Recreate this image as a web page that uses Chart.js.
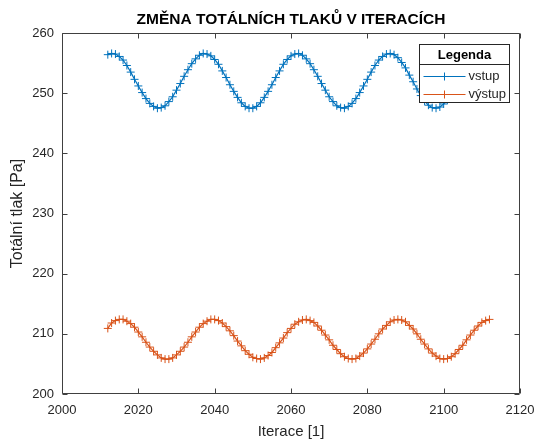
<!DOCTYPE html>
<html>
<head>
<meta charset="utf-8">
<script src="https://cdn.jsdelivr.net/npm/chart.js@4.4.1/dist/chart.umd.min.js"></script>
<style>
  html, body { margin: 0; padding: 0; background: #ffffff; }
  #wrap { width: 536px; height: 439px; }
</style>
</head>
<body>
<div id="wrap"><canvas id="c" width="536" height="439"></canvas></div>
<script>
// Iteration numbers (x values)
const iterations = [
  2012, 2013, 2014, 2015, 2016, 2017, 2018, 2019, 2020, 2021,
  2022, 2023, 2024, 2025, 2026, 2027, 2028, 2029, 2030, 2031,
  2032, 2033, 2034, 2035, 2036, 2037, 2038, 2039, 2040, 2041,
  2042, 2043, 2044, 2045, 2046, 2047, 2048, 2049, 2050, 2051,
  2052, 2053, 2054, 2055, 2056, 2057, 2058, 2059, 2060, 2061,
  2062, 2063, 2064, 2065, 2066, 2067, 2068, 2069, 2070, 2071,
  2072, 2073, 2074, 2075, 2076, 2077, 2078, 2079, 2080, 2081,
  2082, 2083, 2084, 2085, 2086, 2087, 2088, 2089, 2090, 2091,
  2092, 2093, 2094, 2095, 2096, 2097, 2098, 2099, 2100, 2101,
  2102, 2103, 2104, 2105, 2106, 2107, 2108, 2109, 2110, 2111,
  2112
];

// Total pressure at the inlet [Pa]
const vstup = [
  256.4, 256.6, 256.5, 256.1, 255.5, 254.6, 253.5, 252.3, 251.2, 250.1,
  249.1, 248.3, 247.8, 247.5, 247.6, 247.9, 248.6, 249.4, 250.5, 251.6,
  252.8, 253.9, 254.9, 255.7, 256.3, 256.6, 256.5, 256.2, 255.6, 254.8,
  253.7, 252.6, 251.4, 250.3, 249.3, 248.4, 247.8, 247.5, 247.5, 247.8,
  248.4, 249.3, 250.3, 251.4, 252.6, 253.7, 254.8, 255.6, 256.2, 256.5,
  256.6, 256.3, 255.7, 254.9, 253.9, 252.8, 251.6, 250.5, 249.4, 248.6,
  247.9, 247.6, 247.5, 247.8, 248.3, 249.1, 250.1, 251.2, 252.3, 253.5,
  254.6, 255.5, 256.1, 256.5, 256.6, 256.4, 255.9, 255.1, 254.2, 253.0,
  251.9, 250.7, 249.6, 248.7, 248.0, 247.6, 247.5, 247.7, 248.2, 248.9,
  249.8, 250.9, 252.1, 253.3, 254.4, 255.3, 256.0, 256.4, 256.6, 256.4,
  256.0
];

// Total pressure at the outlet [Pa]
const vystup = [
  210.9, 211.8, 212.2, 212.4, 212.4, 212.1, 211.7, 211.1, 210.3, 209.5,
  208.6, 207.8, 207.1, 206.5, 206.0, 205.8, 205.8, 206.0, 206.5, 207.1,
  207.8, 208.6, 209.5, 210.3, 211.1, 211.7, 212.1, 212.4, 212.4, 212.2,
  211.8, 211.2, 210.5, 209.7, 208.8, 208.0, 207.2, 206.6, 206.1, 205.9,
  205.8, 206.0, 206.4, 206.9, 207.7, 208.5, 209.3, 210.2, 210.9, 211.6,
  212.0, 212.3, 212.4, 212.2, 211.9, 211.3, 210.6, 209.8, 209.0, 208.1,
  207.4, 206.7, 206.2, 205.9, 205.8, 205.9, 206.3, 206.8, 207.5, 208.3,
  209.1, 210.0, 210.8, 211.4, 212.0, 212.3, 212.4, 212.3, 212.0, 211.4,
  210.8, 210.0, 209.1, 208.3, 207.5, 206.8, 206.3, 205.9, 205.8, 205.9,
  206.2, 206.7, 207.4, 208.1, 209.0, 209.8, 210.6, 211.3, 211.9, 212.2,
  212.4
];

const seriesNames = ['vstup', 'výstup'];
const xTicks = [2000, 2020, 2040, 2060, 2080, 2100, 2120];
const yTicks = [200, 210, 220, 230, 240, 250, 260];

const titleText = 'ZMĚNA TOTÁLNÍCH TLAKŮ V ITERACÍCH';
const xTitle = 'Iterace [1]';
const yTitle = 'Totální tlak [Pa]';
const legendTitle = 'Legenda';

const FONT = '"Liberation Sans", Arial, Helvetica, sans-serif';
const AXIS_COLOR = '#404040';
const TEXT_COLOR = '#262626';
const COLORS = ['#0072BD', '#D95319'];

const toPoints = vals => iterations.map((it, i) => ({ x: it, y: vals[i] }));

// Box around the axes with inward tick marks on all four sides, plus the title
const axesBox = {
  id: 'axesBox',
  afterDatasetsDraw(chart) {
    const { ctx, chartArea: a, scales } = chart;
    const L = Math.round(a.left) + 0.5, R = Math.round(a.right) - 0.5;
    const T = Math.round(a.top) + 0.5, B = Math.round(a.bottom) - 0.5;
    const tl = 5;
    ctx.save();
    ctx.strokeStyle = AXIS_COLOR;
    ctx.lineWidth = 1;
    ctx.beginPath();
    ctx.rect(L, T, R - L, B - T);
    scales.x.ticks.forEach(t => {
      const px = Math.round(scales.x.getPixelForValue(t.value)) + 0.5;
      ctx.moveTo(px, B); ctx.lineTo(px, B - tl);
      ctx.moveTo(px, T); ctx.lineTo(px, T + tl);
    });
    scales.y.ticks.forEach(t => {
      const py = Math.round(scales.y.getPixelForValue(t.value)) + 0.5;
      ctx.moveTo(L, py); ctx.lineTo(L + tl, py);
      ctx.moveTo(R, py); ctx.lineTo(R - tl, py);
    });
    ctx.stroke();

    // chart title centred over the plot area
    ctx.fillStyle = '#000000';
    ctx.font = 'bold 15.5px ' + FONT;
    ctx.textAlign = 'center';
    ctx.textBaseline = 'middle';
    ctx.fillText(titleText, (a.left + a.right) / 2, 20);
    ctx.restore();
  }
};

// Boxed legend with a heading, placed in the upper right corner of the plot
const boxLegend = {
  id: 'boxLegend',
  afterDatasetsDraw(chart) {
    const { ctx, chartArea: a } = chart;
    const w = 90, h = 58;
    const x0 = Math.round(a.right) - 11 - w + 0.5;
    const y0 = Math.round(a.top) + 11 + 0.5;
    ctx.save();
    ctx.fillStyle = '#ffffff';
    ctx.fillRect(x0, y0, w, h);
    ctx.strokeStyle = '#262626';
    ctx.lineWidth = 1;
    ctx.strokeRect(x0, y0, w, h);
    ctx.beginPath();
    ctx.moveTo(x0, y0 + 20); ctx.lineTo(x0 + w, y0 + 20);
    ctx.stroke();

    ctx.fillStyle = '#000000';
    ctx.font = 'bold 13px ' + FONT;
    ctx.textAlign = 'center';
    ctx.textBaseline = 'middle';
    ctx.fillText(legendTitle, x0 + w / 2, y0 + 11);

    chart.data.datasets.forEach((ds, i) => {
      const yy = Math.round(y0 + 31 + i * 18) + 0.5;
      ctx.strokeStyle = ds.borderColor;
      ctx.lineWidth = 1;
      ctx.beginPath();
      ctx.moveTo(x0 + 4, yy); ctx.lineTo(x0 + 46, yy);
      const cx = x0 + 25;
      ctx.moveTo(cx, yy - 4); ctx.lineTo(cx, yy + 4);
      ctx.stroke();
      ctx.fillStyle = TEXT_COLOR;
      ctx.font = '13px ' + FONT;
      ctx.textAlign = 'left';
      ctx.fillText(ds.label, x0 + 49, yy);
    });
    ctx.restore();
  }
};

new Chart(document.getElementById('c'), {
  type: 'line',
  data: {
    datasets: [
      { label: seriesNames[0], data: toPoints(vstup), borderColor: COLORS[0], backgroundColor: COLORS[0] },
      { label: seriesNames[1], data: toPoints(vystup), borderColor: COLORS[1], backgroundColor: COLORS[1] }
    ]
  },
  options: {
    responsive: false,
    animation: false,
    devicePixelRatio: 1,
    layout: { padding: { top: 33, right: 16, left: 0, bottom: 0 } },
    elements: {
      line: { borderWidth: 1.2, tension: 0, fill: false },
      point: { pointStyle: 'cross', radius: 4, borderWidth: 1, hoverRadius: 4 }
    },
    plugins: {
      legend: { display: false },
      title: { display: false },
      tooltip: { enabled: false }
    },
    scales: {
      x: {
        type: 'linear',
        min: xTicks[0],
        max: xTicks[xTicks.length - 1],
        afterBuildTicks: s => { s.ticks = xTicks.map(v => ({ value: v })); },
        afterFit: s => { s.height = 45; s.paddingLeft = 0; s.paddingRight = 0; },
        grid: { display: false, drawTicks: false },
        border: { display: false },
        ticks: {
          padding: 9,
          color: TEXT_COLOR,
          font: { family: FONT, size: 13 },
          maxRotation: 0,
          callback: v => String(v)
        },
        title: {
          display: true,
          text: xTitle,
          color: TEXT_COLOR,
          font: { family: FONT, size: 15, lineHeight: 1 },
          padding: { top: 0, bottom: 0 }
        }
      },
      y: {
        type: 'linear',
        min: yTicks[0],
        max: yTicks[yTicks.length - 1],
        afterBuildTicks: s => { s.ticks = yTicks.map(v => ({ value: v })); },
        afterFit: s => { s.width = 62; s.paddingTop = 0; s.paddingBottom = 0; },
        grid: { display: false, drawTicks: false },
        border: { display: false },
        ticks: {
          padding: 8,
          color: TEXT_COLOR,
          font: { family: FONT, size: 13 },
          callback: v => String(v)
        },
        title: {
          display: true,
          text: yTitle,
          color: TEXT_COLOR,
          font: { family: FONT, size: 16, lineHeight: 1 },
          padding: { top: 10, bottom: 0 }
        }
      }
    }
  },
  plugins: [axesBox, boxLegend]
});
</script>
</body>
</html>
